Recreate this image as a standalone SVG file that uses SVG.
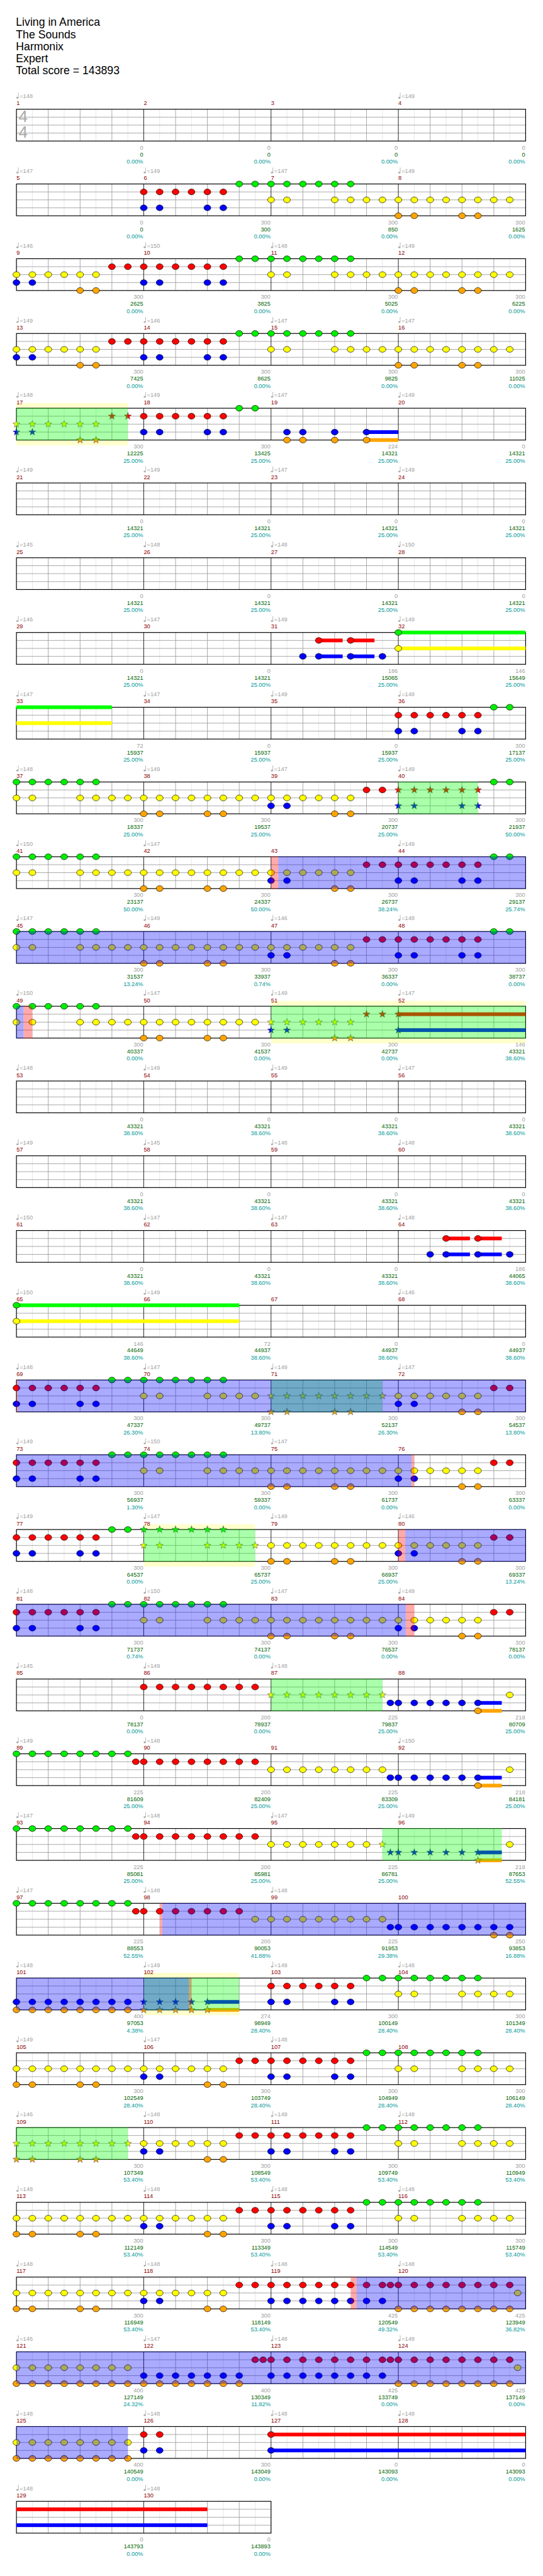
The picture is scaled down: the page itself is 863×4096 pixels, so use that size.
<svg xmlns="http://www.w3.org/2000/svg" width="863" height="4096" viewBox="0 0 863 4096">
<style>
text{font-family:"Liberation Sans",Arial,sans-serif}
.ti{font-size:21px;fill:#000}
.tm{font-size:11px;fill:#a0a0a0}
.mn{font-size:11px;fill:#8b0000}
.sg{font-size:11px;fill:#a0a0a0;text-anchor:end}
.sc{font-size:11px;fill:#006400;text-anchor:end}
.sp{font-size:11px;fill:#009999;text-anchor:end}
.ts{font-size:31px;fill:#aaa}
.nt{stroke:#000;stroke-width:0.8}
.st{stroke:#333;stroke-width:0.6}
.ov-b{fill:#0000ff;fill-opacity:0.333}
.ov-g{fill:#00ff00;fill-opacity:0.333}
.ov-r{fill:#ff0000;fill-opacity:0.333}
.band{fill:#ffffcc}
.su-g{fill:#00ff00}.su-r{fill:#ff0000}.su-y{fill:#ffff00}.su-b{fill:#0000ff}.su-o{fill:#ffa500}
</style>
<defs>
<ellipse id="G" class="nt" cx="0" cy="206" rx="6.5" ry="5.5" fill="#00ee00"/>
<ellipse id="R" class="nt" cx="0" cy="221" rx="6.5" ry="5.5" fill="#ff0000"/>
<ellipse id="Y" class="nt" cx="0" cy="236" rx="6.5" ry="5.5" fill="#ffff00"/>
<ellipse id="B" class="nt" cx="0" cy="251" rx="6.5" ry="5.5" fill="#0000ff"/>
<ellipse id="O" class="nt" cx="0" cy="266" rx="6.5" ry="5.5" fill="#ffa500"/>
<path id="star" d="M0,-7 L1.646,-2.265 L6.657,-2.163 L2.663,0.865 L4.114,5.663 L0,2.8 L-4.114,5.663 L-2.663,0.865 L-6.657,-2.163 L-1.646,-2.265 Z"/>
<use id="sG" href="#star" y="206" class="st" fill="#00ee00"/>
<use id="sR" href="#star" y="221" class="st" fill="#ff0000"/>
<use id="sY" href="#star" y="236" class="st" fill="#ffff00"/>
<use id="sB" href="#star" y="251" class="st" fill="#0000ff"/>
<use id="sO" href="#star" y="266" class="st" fill="#ffa500"/>
<g id="tq"><ellipse cx="1.8" cy="184.5" rx="2" ry="1.7" fill="#aaa"/><line x1="3.5" y1="175" x2="3.5" y2="184.5" stroke="#aaa" stroke-width="1"/></g>
<g id="staff">
<rect x="31" y="206" width="960" height="60" fill="#fff"/>
<path d="M61,206V266M121,206V266M181,206V266M241,206V266M301,206V266M361,206V266M421,206V266M481,206V266M541,206V266M601,206V266M661,206V266M721,206V266M781,206V266M841,206V266M901,206V266M961,206V266" stroke="#e2e2e2" stroke-width="1"/>
<path d="M91,206V266M151,206V266M211,206V266M331,206V266M391,206V266M451,206V266M571,206V266M631,206V266M691,206V266M811,206V266M871,206V266M931,206V266M31,221H991M31,236H991M31,251H991" stroke="#9a9a9a" stroke-width="1"/>
<path d="M271,206V266M511,206V266M751,206V266" stroke="#000" stroke-width="1"/>
<rect x="31" y="206" width="960" height="60" fill="none" stroke="#000" stroke-width="1.4"/>
</g>
<g id="staffh">
<rect x="31" y="206" width="480" height="60" fill="#fff"/>
<path d="M61,206V266M121,206V266M181,206V266M241,206V266M301,206V266M361,206V266M421,206V266M481,206V266" stroke="#e2e2e2" stroke-width="1"/>
<path d="M91,206V266M151,206V266M211,206V266M331,206V266M391,206V266M451,206V266M31,221H511M31,236H511M31,251H511" stroke="#9a9a9a" stroke-width="1"/>
<path d="M271,206V266" stroke="#000" stroke-width="1"/>
<rect x="31" y="206" width="480" height="60" fill="none" stroke="#000" stroke-width="1.4"/>
</g>
</defs>
<rect width="863" height="4096" fill="#fff"/>
<g transform="scale(0.843)">
<g id="header">
<text class="ti" x="30" y="49">Living in America</text>
<text class="ti" x="30" y="72">The Sounds</text>
<text class="ti" x="30" y="95">Harmonix</text>
<text class="ti" x="30" y="117">Expert</text>
<text class="ti" x="30" y="140">Total score = 143893</text>
</g>

<g id="row-m1">
<use href="#staff"/>
<text class="ts" x="35" y="230">4</text><text class="ts" x="35" y="260">4</text>
<use href="#tq" x="31"/><text class="tm" x="37" y="185">=148</text>
<use href="#tq" x="751"/><text class="tm" x="757" y="185">=149</text>
<text class="mn" x="31" y="198.5">1</text><text class="mn" x="271" y="198.5">2</text><text class="mn" x="511" y="198.5">3</text><text class="mn" x="751" y="198.5">4</text>
<text class="sg" x="270" y="282">0</text><text class="sg" x="510" y="282">0</text><text class="sg" x="750" y="282">0</text><text class="sg" x="990" y="282">0</text>
<text class="sc" x="270" y="295">0</text><text class="sc" x="510" y="295">0</text><text class="sc" x="750" y="295">0</text><text class="sc" x="990" y="295">0</text>
<text class="sp" x="270" y="308.5">0.00%</text><text class="sp" x="510" y="308.5">0.00%</text><text class="sp" x="750" y="308.5">0.00%</text><text class="sp" x="990" y="308.5">0.00%</text>
</g>

<g id="row-m5" transform="translate(0,141)">
<use href="#staff"/>
<use href="#R" x="271"/><use href="#R" x="301"/><use href="#R" x="331"/><use href="#R" x="361"/><use href="#R" x="391"/><use href="#R" x="421"/>
<use href="#B" x="271"/><use href="#B" x="301"/><use href="#B" x="391"/><use href="#B" x="421"/>
<use href="#G" x="451"/><use href="#G" x="481"/><use href="#G" x="511"/><use href="#G" x="541"/><use href="#G" x="571"/><use href="#G" x="601"/><use href="#G" x="631"/><use href="#G" x="661"/>
<use href="#Y" x="511"/><use href="#Y" x="541"/><use href="#Y" x="631"/><use href="#Y" x="661"/><use href="#Y" x="691"/><use href="#Y" x="721"/><use href="#Y" x="751"/><use href="#Y" x="781"/><use href="#Y" x="811"/><use href="#Y" x="841"/><use href="#Y" x="871"/><use href="#Y" x="901"/><use href="#Y" x="931"/><use href="#Y" x="961"/>
<use href="#O" x="751"/><use href="#O" x="781"/><use href="#O" x="871"/><use href="#O" x="901"/>
<use href="#tq" x="31"/><text class="tm" x="37" y="185">=147</text><use href="#tq" x="271"/><text class="tm" x="277" y="185">=149</text><use href="#tq" x="511"/><text class="tm" x="517" y="185">=147</text><use href="#tq" x="751"/><text class="tm" x="757" y="185">=149</text>
<text class="mn" x="31" y="198.5">5</text><text class="mn" x="271" y="198.5">6</text><text class="mn" x="511" y="198.5">7</text><text class="mn" x="751" y="198.5">8</text>
<text class="sg" x="270" y="282">0</text><text class="sg" x="510" y="282">300</text><text class="sg" x="750" y="282">300</text><text class="sg" x="990" y="282">300</text>
<text class="sc" x="270" y="295">0</text><text class="sc" x="510" y="295">300</text><text class="sc" x="750" y="295">850</text><text class="sc" x="990" y="295">1625</text>
<text class="sp" x="270" y="308.5">0.00%</text><text class="sp" x="510" y="308.5">0.00%</text><text class="sp" x="750" y="308.5">0.00%</text><text class="sp" x="990" y="308.5">0.00%</text>
</g>

<g id="row-m9" transform="translate(0,282)">
<use href="#staff"/>
<use href="#Y" x="31"/><use href="#Y" x="61"/><use href="#Y" x="91"/><use href="#Y" x="121"/><use href="#Y" x="151"/><use href="#Y" x="181"/><use href="#Y" x="511"/><use href="#Y" x="541"/><use href="#Y" x="631"/><use href="#Y" x="661"/><use href="#Y" x="691"/><use href="#Y" x="721"/><use href="#Y" x="751"/><use href="#Y" x="781"/><use href="#Y" x="811"/><use href="#Y" x="841"/><use href="#Y" x="871"/><use href="#Y" x="901"/><use href="#Y" x="931"/><use href="#Y" x="961"/>
<use href="#B" x="31"/><use href="#B" x="61"/><use href="#B" x="271"/><use href="#B" x="301"/><use href="#B" x="391"/><use href="#B" x="421"/>
<use href="#O" x="151"/><use href="#O" x="181"/><use href="#O" x="751"/><use href="#O" x="781"/><use href="#O" x="871"/><use href="#O" x="901"/>
<use href="#R" x="211"/><use href="#R" x="241"/><use href="#R" x="271"/><use href="#R" x="301"/><use href="#R" x="331"/><use href="#R" x="361"/><use href="#R" x="391"/><use href="#R" x="421"/>
<use href="#G" x="451"/><use href="#G" x="481"/><use href="#G" x="511"/><use href="#G" x="541"/><use href="#G" x="571"/><use href="#G" x="601"/><use href="#G" x="631"/><use href="#G" x="661"/>
<use href="#tq" x="31"/><text class="tm" x="37" y="185">=146</text><use href="#tq" x="271"/><text class="tm" x="277" y="185">=150</text><use href="#tq" x="511"/><text class="tm" x="517" y="185">=148</text><use href="#tq" x="751"/><text class="tm" x="757" y="185">=149</text>
<text class="mn" x="31" y="198.5">9</text><text class="mn" x="271" y="198.5">10</text><text class="mn" x="511" y="198.5">11</text><text class="mn" x="751" y="198.5">12</text>
<text class="sg" x="270" y="282">300</text><text class="sg" x="510" y="282">300</text><text class="sg" x="750" y="282">300</text><text class="sg" x="990" y="282">300</text>
<text class="sc" x="270" y="295">2625</text><text class="sc" x="510" y="295">3825</text><text class="sc" x="750" y="295">5025</text><text class="sc" x="990" y="295">6225</text>
<text class="sp" x="270" y="308.5">0.00%</text><text class="sp" x="510" y="308.5">0.00%</text><text class="sp" x="750" y="308.5">0.00%</text><text class="sp" x="990" y="308.5">0.00%</text>
</g>

<g id="row-m13" transform="translate(0,423)">
<use href="#staff"/>
<use href="#Y" x="31"/><use href="#Y" x="61"/><use href="#Y" x="91"/><use href="#Y" x="121"/><use href="#Y" x="151"/><use href="#Y" x="181"/><use href="#Y" x="511"/><use href="#Y" x="541"/><use href="#Y" x="631"/><use href="#Y" x="661"/><use href="#Y" x="691"/><use href="#Y" x="721"/><use href="#Y" x="751"/><use href="#Y" x="781"/><use href="#Y" x="811"/><use href="#Y" x="841"/><use href="#Y" x="871"/><use href="#Y" x="901"/><use href="#Y" x="931"/><use href="#Y" x="961"/>
<use href="#B" x="31"/><use href="#B" x="61"/><use href="#B" x="271"/><use href="#B" x="301"/><use href="#B" x="391"/><use href="#B" x="421"/>
<use href="#O" x="151"/><use href="#O" x="181"/><use href="#O" x="751"/><use href="#O" x="781"/><use href="#O" x="871"/><use href="#O" x="901"/>
<use href="#R" x="211"/><use href="#R" x="241"/><use href="#R" x="271"/><use href="#R" x="301"/><use href="#R" x="331"/><use href="#R" x="361"/><use href="#R" x="391"/><use href="#R" x="421"/>
<use href="#G" x="451"/><use href="#G" x="481"/><use href="#G" x="511"/><use href="#G" x="541"/><use href="#G" x="571"/><use href="#G" x="601"/><use href="#G" x="631"/><use href="#G" x="661"/>
<use href="#tq" x="31"/><text class="tm" x="37" y="185">=149</text><use href="#tq" x="271"/><text class="tm" x="277" y="185">=146</text><use href="#tq" x="511"/><text class="tm" x="517" y="185">=147</text><use href="#tq" x="751"/><text class="tm" x="757" y="185">=147</text>
<text class="mn" x="31" y="198.5">13</text><text class="mn" x="271" y="198.5">14</text><text class="mn" x="511" y="198.5">15</text><text class="mn" x="751" y="198.5">16</text>
<text class="sg" x="270" y="282">300</text><text class="sg" x="510" y="282">300</text><text class="sg" x="750" y="282">300</text><text class="sg" x="990" y="282">300</text>
<text class="sc" x="270" y="295">7425</text><text class="sc" x="510" y="295">8625</text><text class="sc" x="750" y="295">9825</text><text class="sc" x="990" y="295">11025</text>
<text class="sp" x="270" y="308.5">0.00%</text><text class="sp" x="510" y="308.5">0.00%</text><text class="sp" x="750" y="308.5">0.00%</text><text class="sp" x="990" y="308.5">0.00%</text>
</g>

<g id="row-m17" transform="translate(0,564)">
<rect class="band" x="31" y="196" width="210" height="80"/>
<use href="#staff"/>
<rect class="su-b" x="691" y="247.5" width="60" height="7"/><rect class="su-o" x="691" y="262.5" width="60" height="7"/>
<use href="#sY" x="31"/><use href="#sY" x="61"/><use href="#sY" x="91"/><use href="#sY" x="121"/><use href="#sY" x="151"/><use href="#sY" x="181"/>
<use href="#sB" x="31"/><use href="#sB" x="61"/><use href="#sO" x="151"/><use href="#sO" x="181"/><use href="#sR" x="211"/><use href="#sR" x="241"/>
<use href="#R" x="271"/><use href="#R" x="301"/><use href="#R" x="331"/><use href="#R" x="361"/><use href="#R" x="391"/><use href="#R" x="421"/>
<use href="#B" x="271"/><use href="#B" x="301"/><use href="#B" x="391"/><use href="#B" x="421"/>
<use href="#G" x="451"/><use href="#G" x="481"/>
<use href="#B" x="541"/><use href="#B" x="571"/><use href="#B" x="631"/><use href="#B" x="691"/>
<use href="#O" x="541"/><use href="#O" x="571"/><use href="#O" x="631"/><use href="#O" x="691"/>
<rect class="ov-g" x="31" y="205.5" width="210" height="61"/>
<use href="#tq" x="31"/><text class="tm" x="37" y="185">=148</text><use href="#tq" x="271"/><text class="tm" x="277" y="185">=149</text><use href="#tq" x="511"/><text class="tm" x="517" y="185">=147</text><use href="#tq" x="751"/><text class="tm" x="757" y="185">=149</text>
<text class="mn" x="31" y="198.5">17</text><text class="mn" x="271" y="198.5">18</text><text class="mn" x="511" y="198.5">19</text><text class="mn" x="751" y="198.5">20</text>
<text class="sg" x="270" y="282">300</text><text class="sg" x="510" y="282">300</text><text class="sg" x="750" y="282">224</text><text class="sg" x="990" y="282">0</text>
<text class="sc" x="270" y="295">12225</text><text class="sc" x="510" y="295">13425</text><text class="sc" x="750" y="295">14321</text><text class="sc" x="990" y="295">14321</text>
<text class="sp" x="270" y="308.5">25.00%</text><text class="sp" x="510" y="308.5">25.00%</text><text class="sp" x="750" y="308.5">25.00%</text><text class="sp" x="990" y="308.5">25.00%</text>
</g>

<g id="row-m21" transform="translate(0,705)">
<use href="#staff"/>
<use href="#tq" x="31"/><text class="tm" x="37" y="185">=149</text><use href="#tq" x="271"/><text class="tm" x="277" y="185">=149</text><use href="#tq" x="511"/><text class="tm" x="517" y="185">=147</text><use href="#tq" x="751"/><text class="tm" x="757" y="185">=149</text>
<text class="mn" x="31" y="198.5">21</text><text class="mn" x="271" y="198.5">22</text><text class="mn" x="511" y="198.5">23</text><text class="mn" x="751" y="198.5">24</text>
<text class="sg" x="270" y="282">0</text><text class="sg" x="510" y="282">0</text><text class="sg" x="750" y="282">0</text><text class="sg" x="990" y="282">0</text>
<text class="sc" x="270" y="295">14321</text><text class="sc" x="510" y="295">14321</text><text class="sc" x="750" y="295">14321</text><text class="sc" x="990" y="295">14321</text>
<text class="sp" x="270" y="308.5">25.00%</text><text class="sp" x="510" y="308.5">25.00%</text><text class="sp" x="750" y="308.5">25.00%</text><text class="sp" x="990" y="308.5">25.00%</text>
</g>

<g id="row-m25" transform="translate(0,846)">
<use href="#staff"/>
<use href="#tq" x="31"/><text class="tm" x="37" y="185">=145</text><use href="#tq" x="271"/><text class="tm" x="277" y="185">=148</text><use href="#tq" x="511"/><text class="tm" x="517" y="185">=148</text><use href="#tq" x="751"/><text class="tm" x="757" y="185">=150</text>
<text class="mn" x="31" y="198.5">25</text><text class="mn" x="271" y="198.5">26</text><text class="mn" x="511" y="198.5">27</text><text class="mn" x="751" y="198.5">28</text>
<text class="sg" x="270" y="282">0</text><text class="sg" x="510" y="282">0</text><text class="sg" x="750" y="282">0</text><text class="sg" x="990" y="282">0</text>
<text class="sc" x="270" y="295">14321</text><text class="sc" x="510" y="295">14321</text><text class="sc" x="750" y="295">14321</text><text class="sc" x="990" y="295">14321</text>
<text class="sp" x="270" y="308.5">25.00%</text><text class="sp" x="510" y="308.5">25.00%</text><text class="sp" x="750" y="308.5">25.00%</text><text class="sp" x="990" y="308.5">25.00%</text>
</g>

<g id="row-m29" transform="translate(0,987)">
<use href="#staff"/>
<rect class="su-b" x="601" y="247.5" width="45" height="7"/><rect class="su-b" x="661" y="247.5" width="45" height="7"/>
<rect class="su-r" x="601" y="217.5" width="45" height="7"/><rect class="su-r" x="661" y="217.5" width="45" height="7"/>
<rect class="su-g" x="751" y="202.5" width="240" height="7"/><rect class="su-y" x="751" y="232.5" width="240" height="7"/>
<use href="#B" x="571"/><use href="#B" x="601"/><use href="#B" x="661"/><use href="#B" x="721"/>
<use href="#R" x="601"/><use href="#R" x="661"/><use href="#G" x="751"/><use href="#Y" x="751"/>
<use href="#tq" x="31"/><text class="tm" x="37" y="185">=146</text><use href="#tq" x="271"/><text class="tm" x="277" y="185">=147</text><use href="#tq" x="511"/><text class="tm" x="517" y="185">=149</text><use href="#tq" x="751"/><text class="tm" x="757" y="185">=149</text>
<text class="mn" x="31" y="198.5">29</text><text class="mn" x="271" y="198.5">30</text><text class="mn" x="511" y="198.5">31</text><text class="mn" x="751" y="198.5">32</text>
<text class="sg" x="270" y="282">0</text><text class="sg" x="510" y="282">0</text><text class="sg" x="750" y="282">186</text><text class="sg" x="990" y="282">146</text>
<text class="sc" x="270" y="295">14321</text><text class="sc" x="510" y="295">14321</text><text class="sc" x="750" y="295">15065</text><text class="sc" x="990" y="295">15649</text>
<text class="sp" x="270" y="308.5">25.00%</text><text class="sp" x="510" y="308.5">25.00%</text><text class="sp" x="750" y="308.5">25.00%</text><text class="sp" x="990" y="308.5">25.00%</text>
</g>

<g id="row-m33" transform="translate(0,1128)">
<use href="#staff"/>
<rect class="su-g" x="31" y="202.5" width="180" height="7"/><rect class="su-y" x="31" y="232.5" width="180" height="7"/>
<use href="#R" x="751"/><use href="#R" x="781"/><use href="#R" x="811"/><use href="#R" x="841"/><use href="#R" x="871"/><use href="#R" x="901"/>
<use href="#B" x="751"/><use href="#B" x="781"/><use href="#B" x="871"/><use href="#B" x="901"/><use href="#G" x="931"/><use href="#G" x="961"/>
<use href="#tq" x="31"/><text class="tm" x="37" y="185">=147</text><use href="#tq" x="271"/><text class="tm" x="277" y="185">=147</text><use href="#tq" x="511"/><text class="tm" x="517" y="185">=149</text><use href="#tq" x="751"/><text class="tm" x="757" y="185">=148</text>
<text class="mn" x="31" y="198.5">33</text><text class="mn" x="271" y="198.5">34</text><text class="mn" x="511" y="198.5">35</text><text class="mn" x="751" y="198.5">36</text>
<text class="sg" x="270" y="282">72</text><text class="sg" x="510" y="282">0</text><text class="sg" x="750" y="282">0</text><text class="sg" x="990" y="282">300</text>
<text class="sc" x="270" y="295">15937</text><text class="sc" x="510" y="295">15937</text><text class="sc" x="750" y="295">15937</text><text class="sc" x="990" y="295">17137</text>
<text class="sp" x="270" y="308.5">25.00%</text><text class="sp" x="510" y="308.5">25.00%</text><text class="sp" x="750" y="308.5">25.00%</text><text class="sp" x="990" y="308.5">25.00%</text>
</g>

<g id="row-m37" transform="translate(0,1269)">
<use href="#staff"/>
<use href="#G" x="31"/><use href="#G" x="61"/><use href="#G" x="91"/><use href="#G" x="121"/><use href="#G" x="151"/><use href="#G" x="181"/><use href="#G" x="931"/><use href="#G" x="961"/>
<use href="#Y" x="31"/><use href="#Y" x="61"/><use href="#Y" x="151"/><use href="#Y" x="181"/><use href="#Y" x="211"/><use href="#Y" x="241"/><use href="#Y" x="271"/><use href="#Y" x="301"/><use href="#Y" x="331"/><use href="#Y" x="361"/><use href="#Y" x="391"/><use href="#Y" x="421"/><use href="#Y" x="451"/><use href="#Y" x="481"/><use href="#Y" x="511"/><use href="#Y" x="541"/><use href="#Y" x="571"/><use href="#Y" x="601"/><use href="#Y" x="631"/><use href="#Y" x="661"/>
<use href="#O" x="271"/><use href="#O" x="301"/><use href="#O" x="391"/><use href="#O" x="421"/><use href="#O" x="631"/><use href="#O" x="661"/>
<use href="#B" x="511"/><use href="#B" x="541"/><use href="#R" x="691"/><use href="#R" x="721"/>
<use href="#sR" x="751"/><use href="#sR" x="781"/><use href="#sR" x="811"/><use href="#sR" x="841"/><use href="#sR" x="871"/><use href="#sR" x="901"/>
<use href="#sB" x="751"/><use href="#sB" x="781"/><use href="#sB" x="871"/><use href="#sB" x="901"/>
<rect class="ov-g" x="751" y="205.5" width="150" height="61"/>
<use href="#tq" x="31"/><text class="tm" x="37" y="185">=148</text><use href="#tq" x="271"/><text class="tm" x="277" y="185">=149</text><use href="#tq" x="511"/><text class="tm" x="517" y="185">=147</text><use href="#tq" x="751"/><text class="tm" x="757" y="185">=149</text>
<text class="mn" x="31" y="198.5">37</text><text class="mn" x="271" y="198.5">38</text><text class="mn" x="511" y="198.5">39</text><text class="mn" x="751" y="198.5">40</text>
<text class="sg" x="270" y="282">300</text><text class="sg" x="510" y="282">300</text><text class="sg" x="750" y="282">300</text><text class="sg" x="990" y="282">300</text>
<text class="sc" x="270" y="295">18337</text><text class="sc" x="510" y="295">19537</text><text class="sc" x="750" y="295">20737</text><text class="sc" x="990" y="295">21937</text>
<text class="sp" x="270" y="308.5">25.00%</text><text class="sp" x="510" y="308.5">25.00%</text><text class="sp" x="750" y="308.5">25.00%</text><text class="sp" x="990" y="308.5">50.00%</text>
</g>

<g id="row-m41" transform="translate(0,1410)">
<use href="#staff"/>
<use href="#G" x="31"/><use href="#G" x="61"/><use href="#G" x="91"/><use href="#G" x="121"/><use href="#G" x="151"/><use href="#G" x="181"/><use href="#G" x="931"/><use href="#G" x="961"/>
<use href="#Y" x="31"/><use href="#Y" x="61"/><use href="#Y" x="151"/><use href="#Y" x="181"/><use href="#Y" x="211"/><use href="#Y" x="241"/><use href="#Y" x="271"/><use href="#Y" x="301"/><use href="#Y" x="331"/><use href="#Y" x="361"/><use href="#Y" x="391"/><use href="#Y" x="421"/><use href="#Y" x="451"/><use href="#Y" x="481"/><use href="#Y" x="511"/><use href="#Y" x="541"/><use href="#Y" x="571"/><use href="#Y" x="601"/><use href="#Y" x="631"/><use href="#Y" x="661"/>
<use href="#O" x="271"/><use href="#O" x="301"/><use href="#O" x="391"/><use href="#O" x="421"/><use href="#O" x="631"/><use href="#O" x="661"/>
<use href="#B" x="511"/><use href="#B" x="541"/><use href="#B" x="751"/><use href="#B" x="781"/><use href="#B" x="871"/><use href="#B" x="901"/>
<use href="#R" x="691"/><use href="#R" x="721"/><use href="#R" x="751"/><use href="#R" x="781"/><use href="#R" x="811"/><use href="#R" x="841"/><use href="#R" x="871"/><use href="#R" x="901"/>
<rect class="ov-r" x="511" y="205.5" width="13.5" height="61"/><rect class="ov-b" x="524.5" y="205.5" width="466.5" height="61"/>
<use href="#tq" x="31"/><text class="tm" x="37" y="185">=150</text><use href="#tq" x="271"/><text class="tm" x="277" y="185">=147</text><use href="#tq" x="751"/><text class="tm" x="757" y="185">=149</text>
<text class="mn" x="31" y="198.5">41</text><text class="mn" x="271" y="198.5">42</text><text class="mn" x="511" y="198.5">43</text><text class="mn" x="751" y="198.5">44</text>
<text class="sg" x="270" y="282">300</text><text class="sg" x="510" y="282">300</text><text class="sg" x="750" y="282">300</text><text class="sg" x="990" y="282">300</text>
<text class="sc" x="270" y="295">23137</text><text class="sc" x="510" y="295">24337</text><text class="sc" x="750" y="295">26737</text><text class="sc" x="990" y="295">29137</text>
<text class="sp" x="270" y="308.5">50.00%</text><text class="sp" x="510" y="308.5">50.00%</text><text class="sp" x="750" y="308.5">38.24%</text><text class="sp" x="990" y="308.5">25.74%</text>
</g>

<g id="row-m45" transform="translate(0,1551)">
<use href="#staff"/>
<use href="#G" x="31"/><use href="#G" x="61"/><use href="#G" x="91"/><use href="#G" x="121"/><use href="#G" x="151"/><use href="#G" x="181"/><use href="#G" x="931"/><use href="#G" x="961"/>
<use href="#Y" x="31"/><use href="#Y" x="61"/><use href="#Y" x="151"/><use href="#Y" x="181"/><use href="#Y" x="211"/><use href="#Y" x="241"/><use href="#Y" x="271"/><use href="#Y" x="301"/><use href="#Y" x="331"/><use href="#Y" x="361"/><use href="#Y" x="391"/><use href="#Y" x="421"/><use href="#Y" x="451"/><use href="#Y" x="481"/><use href="#Y" x="511"/><use href="#Y" x="541"/><use href="#Y" x="571"/><use href="#Y" x="601"/><use href="#Y" x="631"/><use href="#Y" x="661"/>
<use href="#O" x="271"/><use href="#O" x="301"/><use href="#O" x="391"/><use href="#O" x="421"/><use href="#O" x="631"/><use href="#O" x="661"/>
<use href="#B" x="511"/><use href="#B" x="541"/><use href="#B" x="751"/><use href="#B" x="781"/><use href="#B" x="871"/><use href="#B" x="901"/>
<use href="#R" x="691"/><use href="#R" x="721"/><use href="#R" x="751"/><use href="#R" x="781"/><use href="#R" x="811"/><use href="#R" x="841"/><use href="#R" x="871"/><use href="#R" x="901"/>
<rect class="ov-b" x="31" y="205.5" width="960" height="61"/>
<use href="#tq" x="31"/><text class="tm" x="37" y="185">=147</text><use href="#tq" x="271"/><text class="tm" x="277" y="185">=149</text><use href="#tq" x="511"/><text class="tm" x="517" y="185">=146</text><use href="#tq" x="751"/><text class="tm" x="757" y="185">=148</text>
<text class="mn" x="31" y="198.5">45</text><text class="mn" x="271" y="198.5">46</text><text class="mn" x="511" y="198.5">47</text><text class="mn" x="751" y="198.5">48</text>
<text class="sg" x="270" y="282">300</text><text class="sg" x="510" y="282">300</text><text class="sg" x="750" y="282">300</text><text class="sg" x="990" y="282">300</text>
<text class="sc" x="270" y="295">31537</text><text class="sc" x="510" y="295">33937</text><text class="sc" x="750" y="295">36337</text><text class="sc" x="990" y="295">38737</text>
<text class="sp" x="270" y="308.5">13.24%</text><text class="sp" x="510" y="308.5">0.74%</text><text class="sp" x="750" y="308.5">0.00%</text><text class="sp" x="990" y="308.5">0.00%</text>
</g>

<g id="row-m49" transform="translate(0,1692)">
<rect class="band" x="511" y="196" width="480" height="80"/>
<use href="#staff"/>
<rect class="su-r" x="751" y="217.5" width="240" height="7"/><rect class="su-b" x="751" y="247.5" width="240" height="7"/>
<use href="#G" x="31"/><use href="#G" x="61"/><use href="#G" x="91"/><use href="#G" x="121"/><use href="#G" x="151"/><use href="#G" x="181"/>
<use href="#Y" x="31"/><use href="#Y" x="61"/><use href="#Y" x="151"/><use href="#Y" x="181"/><use href="#Y" x="211"/><use href="#Y" x="241"/><use href="#Y" x="271"/><use href="#Y" x="301"/><use href="#Y" x="331"/><use href="#Y" x="361"/><use href="#Y" x="391"/><use href="#Y" x="421"/><use href="#Y" x="451"/><use href="#Y" x="481"/>
<use href="#O" x="271"/><use href="#O" x="301"/><use href="#O" x="391"/><use href="#O" x="421"/>
<use href="#sY" x="511"/><use href="#sY" x="541"/><use href="#sY" x="571"/><use href="#sY" x="601"/><use href="#sY" x="631"/><use href="#sY" x="661"/>
<use href="#sB" x="511"/><use href="#sB" x="541"/><use href="#sO" x="631"/><use href="#sO" x="661"/>
<use href="#sR" x="691"/><use href="#sR" x="721"/><use href="#sR" x="751"/><use href="#sB" x="751"/>
<rect class="ov-b" x="31" y="205.5" width="13.5" height="61"/><rect class="ov-r" x="44.5" y="205.5" width="16.5" height="61"/>
<rect class="ov-g" x="511" y="205.5" width="480" height="61"/>
<use href="#tq" x="31"/><text class="tm" x="37" y="185">=150</text><use href="#tq" x="271"/><text class="tm" x="277" y="185">=147</text><use href="#tq" x="511"/><text class="tm" x="517" y="185">=149</text><use href="#tq" x="751"/><text class="tm" x="757" y="185">=147</text>
<text class="mn" x="31" y="198.5">49</text><text class="mn" x="271" y="198.5">50</text><text class="mn" x="511" y="198.5">51</text><text class="mn" x="751" y="198.5">52</text>
<text class="sg" x="270" y="282">300</text><text class="sg" x="510" y="282">300</text><text class="sg" x="750" y="282">300</text><text class="sg" x="990" y="282">146</text>
<text class="sc" x="270" y="295">40337</text><text class="sc" x="510" y="295">41537</text><text class="sc" x="750" y="295">42737</text><text class="sc" x="990" y="295">43321</text>
<text class="sp" x="270" y="308.5">0.00%</text><text class="sp" x="510" y="308.5">0.00%</text><text class="sp" x="750" y="308.5">0.00%</text><text class="sp" x="990" y="308.5">38.60%</text>
</g>

<g id="row-m53" transform="translate(0,1833)">
<use href="#staff"/>
<use href="#tq" x="31"/><text class="tm" x="37" y="185">=148</text><use href="#tq" x="271"/><text class="tm" x="277" y="185">=149</text><use href="#tq" x="511"/><text class="tm" x="517" y="185">=149</text><use href="#tq" x="751"/><text class="tm" x="757" y="185">=147</text>
<text class="mn" x="31" y="198.5">53</text><text class="mn" x="271" y="198.5">54</text><text class="mn" x="511" y="198.5">55</text><text class="mn" x="751" y="198.5">56</text>
<text class="sg" x="270" y="282">0</text><text class="sg" x="510" y="282">0</text><text class="sg" x="750" y="282">0</text><text class="sg" x="990" y="282">0</text>
<text class="sc" x="270" y="295">43321</text><text class="sc" x="510" y="295">43321</text><text class="sc" x="750" y="295">43321</text><text class="sc" x="990" y="295">43321</text>
<text class="sp" x="270" y="308.5">38.60%</text><text class="sp" x="510" y="308.5">38.60%</text><text class="sp" x="750" y="308.5">38.60%</text><text class="sp" x="990" y="308.5">38.60%</text>
</g>

<g id="row-m57" transform="translate(0,1974)">
<use href="#staff"/>
<use href="#tq" x="31"/><text class="tm" x="37" y="185">=149</text><use href="#tq" x="271"/><text class="tm" x="277" y="185">=145</text><use href="#tq" x="511"/><text class="tm" x="517" y="185">=148</text><use href="#tq" x="751"/><text class="tm" x="757" y="185">=148</text>
<text class="mn" x="31" y="198.5">57</text><text class="mn" x="271" y="198.5">58</text><text class="mn" x="511" y="198.5">59</text><text class="mn" x="751" y="198.5">60</text>
<text class="sg" x="270" y="282">0</text><text class="sg" x="510" y="282">0</text><text class="sg" x="750" y="282">0</text><text class="sg" x="990" y="282">0</text>
<text class="sc" x="270" y="295">43321</text><text class="sc" x="510" y="295">43321</text><text class="sc" x="750" y="295">43321</text><text class="sc" x="990" y="295">43321</text>
<text class="sp" x="270" y="308.5">38.60%</text><text class="sp" x="510" y="308.5">38.60%</text><text class="sp" x="750" y="308.5">38.60%</text><text class="sp" x="990" y="308.5">38.60%</text>
</g>

<g id="row-m61" transform="translate(0,2115)">
<use href="#staff"/>
<rect class="su-b" x="841" y="247.5" width="45" height="7"/><rect class="su-b" x="901" y="247.5" width="45" height="7"/>
<rect class="su-r" x="841" y="217.5" width="45" height="7"/><rect class="su-r" x="901" y="217.5" width="45" height="7"/>
<use href="#B" x="811"/><use href="#B" x="841"/><use href="#B" x="901"/><use href="#B" x="961"/><use href="#R" x="841"/><use href="#R" x="901"/>
<use href="#tq" x="31"/><text class="tm" x="37" y="185">=150</text><use href="#tq" x="271"/><text class="tm" x="277" y="185">=147</text><use href="#tq" x="511"/><text class="tm" x="517" y="185">=147</text><use href="#tq" x="751"/><text class="tm" x="757" y="185">=148</text>
<text class="mn" x="31" y="198.5">61</text><text class="mn" x="271" y="198.5">62</text><text class="mn" x="511" y="198.5">63</text><text class="mn" x="751" y="198.5">64</text>
<text class="sg" x="270" y="282">0</text><text class="sg" x="510" y="282">0</text><text class="sg" x="750" y="282">0</text><text class="sg" x="990" y="282">186</text>
<text class="sc" x="270" y="295">43321</text><text class="sc" x="510" y="295">43321</text><text class="sc" x="750" y="295">43321</text><text class="sc" x="990" y="295">44065</text>
<text class="sp" x="270" y="308.5">38.60%</text><text class="sp" x="510" y="308.5">38.60%</text><text class="sp" x="750" y="308.5">38.60%</text><text class="sp" x="990" y="308.5">38.60%</text>
</g>

<g id="row-m65" transform="translate(0,2256)">
<use href="#staff"/>
<rect class="su-g" x="31" y="202.5" width="420" height="7"/><rect class="su-y" x="31" y="232.5" width="420" height="7"/>
<use href="#G" x="31"/><use href="#Y" x="31"/>
<use href="#tq" x="31"/><text class="tm" x="37" y="185">=150</text><use href="#tq" x="271"/><text class="tm" x="277" y="185">=149</text><use href="#tq" x="751"/><text class="tm" x="757" y="185">=146</text>
<text class="mn" x="31" y="198.5">65</text><text class="mn" x="271" y="198.5">66</text><text class="mn" x="511" y="198.5">67</text><text class="mn" x="751" y="198.5">68</text>
<text class="sg" x="270" y="282">146</text><text class="sg" x="510" y="282">72</text><text class="sg" x="750" y="282">0</text><text class="sg" x="990" y="282">0</text>
<text class="sc" x="270" y="295">44649</text><text class="sc" x="510" y="295">44937</text><text class="sc" x="750" y="295">44937</text><text class="sc" x="990" y="295">44937</text>
<text class="sp" x="270" y="308.5">38.60%</text><text class="sp" x="510" y="308.5">38.60%</text><text class="sp" x="750" y="308.5">38.60%</text><text class="sp" x="990" y="308.5">38.60%</text>
</g>

<g id="row-m69" transform="translate(0,2397)">
<use href="#staff"/>
<use href="#R" x="31"/><use href="#R" x="61"/><use href="#R" x="91"/><use href="#R" x="121"/><use href="#R" x="151"/><use href="#R" x="181"/><use href="#R" x="931"/><use href="#R" x="961"/>
<use href="#B" x="31"/><use href="#B" x="61"/><use href="#B" x="151"/><use href="#B" x="181"/><use href="#B" x="751"/><use href="#B" x="781"/>
<use href="#G" x="211"/><use href="#G" x="241"/><use href="#G" x="271"/><use href="#G" x="301"/><use href="#G" x="331"/><use href="#G" x="361"/><use href="#G" x="391"/><use href="#G" x="421"/>
<use href="#Y" x="271"/><use href="#Y" x="301"/><use href="#Y" x="391"/><use href="#Y" x="421"/><use href="#Y" x="451"/><use href="#Y" x="481"/>
<use href="#sY" x="511"/><use href="#sY" x="541"/><use href="#sY" x="571"/><use href="#sY" x="601"/><use href="#sY" x="631"/><use href="#sY" x="661"/><use href="#sY" x="691"/><use href="#sY" x="721"/>
<use href="#sO" x="511"/><use href="#sO" x="541"/><use href="#sO" x="631"/><use href="#sO" x="661"/>
<use href="#Y" x="751"/><use href="#Y" x="781"/><use href="#Y" x="811"/><use href="#Y" x="841"/><use href="#Y" x="871"/><use href="#Y" x="901"/>
<use href="#O" x="871"/><use href="#O" x="901"/>
<rect class="ov-g" x="511" y="205.5" width="210" height="61"/>
<rect class="ov-r" x="31" y="205.5" width="2" height="61"/><rect class="ov-b" x="33" y="205.5" width="958" height="61"/>
<use href="#tq" x="31"/><text class="tm" x="37" y="185">=148</text><use href="#tq" x="271"/><text class="tm" x="277" y="185">=147</text><use href="#tq" x="511"/><text class="tm" x="517" y="185">=149</text><use href="#tq" x="751"/><text class="tm" x="757" y="185">=147</text>
<text class="mn" x="31" y="198.5">69</text><text class="mn" x="271" y="198.5">70</text><text class="mn" x="511" y="198.5">71</text><text class="mn" x="751" y="198.5">72</text>
<text class="sg" x="270" y="282">300</text><text class="sg" x="510" y="282">300</text><text class="sg" x="750" y="282">300</text><text class="sg" x="990" y="282">300</text>
<text class="sc" x="270" y="295">47337</text><text class="sc" x="510" y="295">49737</text><text class="sc" x="750" y="295">52137</text><text class="sc" x="990" y="295">54537</text>
<text class="sp" x="270" y="308.5">26.30%</text><text class="sp" x="510" y="308.5">13.80%</text><text class="sp" x="750" y="308.5">26.30%</text><text class="sp" x="990" y="308.5">13.80%</text>
</g>

<g id="row-m73" transform="translate(0,2538)">
<use href="#staff"/>
<use href="#R" x="31"/><use href="#R" x="61"/><use href="#R" x="91"/><use href="#R" x="121"/><use href="#R" x="151"/><use href="#R" x="181"/><use href="#R" x="931"/><use href="#R" x="961"/>
<use href="#B" x="31"/><use href="#B" x="61"/><use href="#B" x="151"/><use href="#B" x="181"/><use href="#B" x="751"/><use href="#B" x="781"/>
<use href="#G" x="211"/><use href="#G" x="241"/><use href="#G" x="271"/><use href="#G" x="301"/><use href="#G" x="331"/><use href="#G" x="361"/><use href="#G" x="391"/><use href="#G" x="421"/>
<use href="#Y" x="271"/><use href="#Y" x="301"/><use href="#Y" x="391"/><use href="#Y" x="421"/><use href="#Y" x="451"/><use href="#Y" x="481"/><use href="#Y" x="511"/><use href="#Y" x="541"/><use href="#Y" x="571"/><use href="#Y" x="601"/><use href="#Y" x="631"/><use href="#Y" x="661"/><use href="#Y" x="691"/><use href="#Y" x="721"/><use href="#Y" x="751"/><use href="#Y" x="781"/><use href="#Y" x="811"/><use href="#Y" x="841"/><use href="#Y" x="871"/><use href="#Y" x="901"/>
<use href="#O" x="511"/><use href="#O" x="541"/><use href="#O" x="631"/><use href="#O" x="661"/><use href="#O" x="871"/><use href="#O" x="901"/>
<rect class="ov-b" x="31" y="205.5" width="745" height="61"/><rect class="ov-r" x="776" y="205.5" width="5" height="61"/>
<use href="#tq" x="31"/><text class="tm" x="37" y="185">=149</text><use href="#tq" x="271"/><text class="tm" x="277" y="185">=150</text><use href="#tq" x="511"/><text class="tm" x="517" y="185">=147</text>
<text class="mn" x="31" y="198.5">73</text><text class="mn" x="271" y="198.5">74</text><text class="mn" x="511" y="198.5">75</text><text class="mn" x="751" y="198.5">76</text>
<text class="sg" x="270" y="282">300</text><text class="sg" x="510" y="282">300</text><text class="sg" x="750" y="282">300</text><text class="sg" x="990" y="282">300</text>
<text class="sc" x="270" y="295">56937</text><text class="sc" x="510" y="295">59337</text><text class="sc" x="750" y="295">61737</text><text class="sc" x="990" y="295">63337</text>
<text class="sp" x="270" y="308.5">1.30%</text><text class="sp" x="510" y="308.5">0.00%</text><text class="sp" x="750" y="308.5">0.00%</text><text class="sp" x="990" y="308.5">0.00%</text>
</g>

<g id="row-m77" transform="translate(0,2679)">
<rect class="band" x="271" y="196" width="210" height="80"/>
<use href="#staff"/>
<use href="#R" x="31"/><use href="#R" x="61"/><use href="#R" x="91"/><use href="#R" x="121"/><use href="#R" x="151"/><use href="#R" x="181"/><use href="#R" x="931"/><use href="#R" x="961"/>
<use href="#B" x="31"/><use href="#B" x="61"/><use href="#B" x="151"/><use href="#B" x="181"/><use href="#B" x="751"/><use href="#B" x="781"/>
<use href="#G" x="211"/><use href="#G" x="241"/>
<use href="#sG" x="271"/><use href="#sG" x="301"/><use href="#sG" x="331"/><use href="#sG" x="361"/><use href="#sG" x="391"/><use href="#sG" x="421"/>
<use href="#sY" x="271"/><use href="#sY" x="301"/><use href="#sY" x="391"/><use href="#sY" x="421"/><use href="#sY" x="451"/><use href="#sY" x="481"/>
<use href="#Y" x="511"/><use href="#Y" x="541"/><use href="#Y" x="571"/><use href="#Y" x="601"/><use href="#Y" x="631"/><use href="#Y" x="661"/><use href="#Y" x="691"/><use href="#Y" x="721"/><use href="#Y" x="751"/><use href="#Y" x="781"/><use href="#Y" x="811"/><use href="#Y" x="841"/><use href="#Y" x="871"/><use href="#Y" x="901"/>
<use href="#O" x="511"/><use href="#O" x="541"/><use href="#O" x="631"/><use href="#O" x="661"/><use href="#O" x="871"/><use href="#O" x="901"/>
<rect class="ov-g" x="271" y="205.5" width="210" height="61"/>
<rect class="ov-r" x="751" y="205.5" width="13" height="61"/><rect class="ov-b" x="764" y="205.5" width="227" height="61"/>
<use href="#tq" x="31"/><text class="tm" x="37" y="185">=149</text><use href="#tq" x="271"/><text class="tm" x="277" y="185">=147</text><use href="#tq" x="511"/><text class="tm" x="517" y="185">=149</text><use href="#tq" x="751"/><text class="tm" x="757" y="185">=146</text>
<text class="mn" x="31" y="198.5">77</text><text class="mn" x="271" y="198.5">78</text><text class="mn" x="511" y="198.5">79</text><text class="mn" x="751" y="198.5">80</text>
<text class="sg" x="270" y="282">300</text><text class="sg" x="510" y="282">300</text><text class="sg" x="750" y="282">300</text><text class="sg" x="990" y="282">300</text>
<text class="sc" x="270" y="295">64537</text><text class="sc" x="510" y="295">65737</text><text class="sc" x="750" y="295">66937</text><text class="sc" x="990" y="295">69337</text>
<text class="sp" x="270" y="308.5">0.00%</text><text class="sp" x="510" y="308.5">25.00%</text><text class="sp" x="750" y="308.5">25.00%</text><text class="sp" x="990" y="308.5">13.24%</text>
</g>

<g id="row-m81" transform="translate(0,2820)">
<use href="#staff"/>
<use href="#R" x="31"/><use href="#R" x="61"/><use href="#R" x="91"/><use href="#R" x="121"/><use href="#R" x="151"/><use href="#R" x="181"/><use href="#R" x="931"/><use href="#R" x="961"/>
<use href="#B" x="31"/><use href="#B" x="61"/><use href="#B" x="151"/><use href="#B" x="181"/><use href="#B" x="751"/><use href="#B" x="781"/>
<use href="#G" x="211"/><use href="#G" x="241"/><use href="#G" x="271"/><use href="#G" x="301"/><use href="#G" x="331"/><use href="#G" x="361"/><use href="#G" x="391"/><use href="#G" x="421"/>
<use href="#Y" x="271"/><use href="#Y" x="301"/><use href="#Y" x="391"/><use href="#Y" x="421"/><use href="#Y" x="451"/><use href="#Y" x="481"/><use href="#Y" x="511"/><use href="#Y" x="541"/><use href="#Y" x="571"/><use href="#Y" x="601"/><use href="#Y" x="631"/><use href="#Y" x="661"/><use href="#Y" x="691"/><use href="#Y" x="721"/><use href="#Y" x="751"/><use href="#Y" x="781"/><use href="#Y" x="811"/><use href="#Y" x="841"/><use href="#Y" x="871"/><use href="#Y" x="901"/>
<use href="#O" x="511"/><use href="#O" x="541"/><use href="#O" x="631"/><use href="#O" x="661"/><use href="#O" x="871"/><use href="#O" x="901"/>
<rect class="ov-b" x="31" y="205.5" width="734" height="61"/><rect class="ov-r" x="765" y="205.5" width="16" height="61"/>
<use href="#tq" x="31"/><text class="tm" x="37" y="185">=148</text><use href="#tq" x="271"/><text class="tm" x="277" y="185">=150</text><use href="#tq" x="511"/><text class="tm" x="517" y="185">=147</text><use href="#tq" x="751"/><text class="tm" x="757" y="185">=149</text>
<text class="mn" x="31" y="198.5">81</text><text class="mn" x="271" y="198.5">82</text><text class="mn" x="511" y="198.5">83</text><text class="mn" x="751" y="198.5">84</text>
<text class="sg" x="270" y="282">300</text><text class="sg" x="510" y="282">300</text><text class="sg" x="750" y="282">300</text><text class="sg" x="990" y="282">300</text>
<text class="sc" x="270" y="295">71737</text><text class="sc" x="510" y="295">74137</text><text class="sc" x="750" y="295">76537</text><text class="sc" x="990" y="295">78137</text>
<text class="sp" x="270" y="308.5">0.74%</text><text class="sp" x="510" y="308.5">0.00%</text><text class="sp" x="750" y="308.5">0.00%</text><text class="sp" x="990" y="308.5">0.00%</text>
</g>

<g id="row-m85" transform="translate(0,2961)">
<use href="#staff"/>
<rect class="su-b" x="901" y="247.5" width="45" height="7"/><rect class="su-o" x="901" y="262.5" width="45" height="7"/>
<use href="#R" x="271"/><use href="#R" x="301"/><use href="#R" x="331"/><use href="#R" x="361"/><use href="#R" x="391"/><use href="#R" x="421"/><use href="#R" x="451"/><use href="#R" x="481"/>
<use href="#sY" x="511"/><use href="#sY" x="541"/><use href="#sY" x="571"/><use href="#sY" x="601"/><use href="#sY" x="631"/><use href="#sY" x="661"/><use href="#sY" x="691"/><use href="#sY" x="721"/>
<use href="#B" x="736"/><use href="#B" x="751"/><use href="#B" x="781"/><use href="#B" x="811"/><use href="#B" x="841"/><use href="#B" x="871"/><use href="#B" x="901"/><use href="#O" x="901"/><use href="#Y" x="961"/>
<rect class="ov-g" x="511" y="205.5" width="210" height="61"/>
<use href="#tq" x="31"/><text class="tm" x="37" y="185">=145</text><use href="#tq" x="271"/><text class="tm" x="277" y="185">=149</text><use href="#tq" x="511"/><text class="tm" x="517" y="185">=148</text>
<text class="mn" x="31" y="198.5">85</text><text class="mn" x="271" y="198.5">86</text><text class="mn" x="511" y="198.5">87</text><text class="mn" x="751" y="198.5">88</text>
<text class="sg" x="270" y="282">0</text><text class="sg" x="510" y="282">200</text><text class="sg" x="750" y="282">225</text><text class="sg" x="990" y="282">218</text>
<text class="sc" x="270" y="295">78137</text><text class="sc" x="510" y="295">78937</text><text class="sc" x="750" y="295">79837</text><text class="sc" x="990" y="295">80709</text>
<text class="sp" x="270" y="308.5">0.00%</text><text class="sp" x="510" y="308.5">0.00%</text><text class="sp" x="750" y="308.5">25.00%</text><text class="sp" x="990" y="308.5">25.00%</text>
</g>

<g id="row-m89" transform="translate(0,3102)">
<use href="#staff"/>
<rect class="su-b" x="901" y="247.5" width="45" height="7"/><rect class="su-o" x="901" y="262.5" width="45" height="7"/>
<use href="#G" x="31"/><use href="#G" x="61"/><use href="#G" x="91"/><use href="#G" x="121"/><use href="#G" x="151"/><use href="#G" x="181"/><use href="#G" x="211"/><use href="#G" x="241"/>
<use href="#R" x="256"/><use href="#R" x="271"/><use href="#R" x="301"/><use href="#R" x="331"/><use href="#R" x="361"/><use href="#R" x="391"/><use href="#R" x="421"/><use href="#R" x="451"/><use href="#R" x="481"/>
<use href="#Y" x="511"/><use href="#Y" x="541"/><use href="#Y" x="571"/><use href="#Y" x="601"/><use href="#Y" x="631"/><use href="#Y" x="661"/><use href="#Y" x="691"/><use href="#Y" x="721"/>
<use href="#B" x="736"/><use href="#B" x="751"/><use href="#B" x="781"/><use href="#B" x="811"/><use href="#B" x="841"/><use href="#B" x="871"/><use href="#B" x="901"/><use href="#O" x="901"/><use href="#Y" x="961"/>
<use href="#tq" x="31"/><text class="tm" x="37" y="185">=149</text><use href="#tq" x="271"/><text class="tm" x="277" y="185">=148</text><use href="#tq" x="751"/><text class="tm" x="757" y="185">=150</text>
<text class="mn" x="31" y="198.5">89</text><text class="mn" x="271" y="198.5">90</text><text class="mn" x="511" y="198.5">91</text><text class="mn" x="751" y="198.5">92</text>
<text class="sg" x="270" y="282">225</text><text class="sg" x="510" y="282">200</text><text class="sg" x="750" y="282">225</text><text class="sg" x="990" y="282">218</text>
<text class="sc" x="270" y="295">81609</text><text class="sc" x="510" y="295">82409</text><text class="sc" x="750" y="295">83309</text><text class="sc" x="990" y="295">84181</text>
<text class="sp" x="270" y="308.5">25.00%</text><text class="sp" x="510" y="308.5">25.00%</text><text class="sp" x="750" y="308.5">25.00%</text><text class="sp" x="990" y="308.5">25.00%</text>
</g>

<g id="row-m93" transform="translate(0,3243)">
<use href="#staff"/>
<rect class="su-b" x="901" y="247.5" width="45" height="7"/><rect class="su-o" x="901" y="262.5" width="45" height="7"/>
<use href="#G" x="31"/><use href="#G" x="61"/><use href="#G" x="91"/><use href="#G" x="121"/><use href="#G" x="151"/><use href="#G" x="181"/><use href="#G" x="211"/><use href="#G" x="241"/>
<use href="#R" x="256"/><use href="#R" x="271"/><use href="#R" x="301"/><use href="#R" x="331"/><use href="#R" x="361"/><use href="#R" x="391"/><use href="#R" x="421"/><use href="#R" x="451"/><use href="#R" x="481"/>
<use href="#Y" x="511"/><use href="#Y" x="541"/><use href="#Y" x="571"/><use href="#Y" x="601"/><use href="#Y" x="631"/><use href="#Y" x="661"/><use href="#Y" x="691"/><use href="#sY" x="721"/>
<use href="#sB" x="736"/><use href="#sB" x="751"/><use href="#sB" x="781"/><use href="#sB" x="811"/><use href="#sB" x="841"/><use href="#sB" x="871"/><use href="#sB" x="901"/><use href="#sO" x="901"/><use href="#Y" x="961"/>
<rect class="ov-g" x="721" y="205.5" width="225" height="61"/>
<use href="#tq" x="31"/><text class="tm" x="37" y="185">=147</text><use href="#tq" x="271"/><text class="tm" x="277" y="185">=148</text><use href="#tq" x="511"/><text class="tm" x="517" y="185">=147</text><use href="#tq" x="751"/><text class="tm" x="757" y="185">=149</text>
<text class="mn" x="31" y="198.5">93</text><text class="mn" x="271" y="198.5">94</text><text class="mn" x="511" y="198.5">95</text><text class="mn" x="751" y="198.5">96</text>
<text class="sg" x="270" y="282">225</text><text class="sg" x="510" y="282">200</text><text class="sg" x="750" y="282">225</text><text class="sg" x="990" y="282">218</text>
<text class="sc" x="270" y="295">85081</text><text class="sc" x="510" y="295">85981</text><text class="sc" x="750" y="295">86781</text><text class="sc" x="990" y="295">87653</text>
<text class="sp" x="270" y="308.5">25.00%</text><text class="sp" x="510" y="308.5">25.00%</text><text class="sp" x="750" y="308.5">25.00%</text><text class="sp" x="990" y="308.5">52.55%</text>
</g>

<g id="row-m97" transform="translate(0,3384)">
<use href="#staff"/>
<use href="#G" x="31"/><use href="#G" x="61"/><use href="#G" x="91"/><use href="#G" x="121"/><use href="#G" x="151"/><use href="#G" x="181"/><use href="#G" x="211"/><use href="#G" x="241"/>
<use href="#R" x="256"/><use href="#R" x="271"/><use href="#R" x="301"/><use href="#R" x="331"/><use href="#R" x="361"/><use href="#R" x="391"/><use href="#R" x="421"/><use href="#R" x="451"/>
<use href="#Y" x="481"/><use href="#Y" x="511"/><use href="#Y" x="541"/><use href="#Y" x="571"/><use href="#Y" x="601"/><use href="#Y" x="631"/><use href="#Y" x="661"/><use href="#Y" x="691"/><use href="#Y" x="721"/>
<use href="#B" x="736"/><use href="#B" x="751"/><use href="#B" x="781"/><use href="#B" x="811"/><use href="#B" x="841"/><use href="#B" x="871"/><use href="#B" x="901"/><use href="#B" x="931"/><use href="#B" x="961"/>
<use href="#O" x="931"/><use href="#O" x="961"/>
<rect class="ov-r" x="301" y="205.5" width="5" height="61"/><rect class="ov-b" x="306" y="205.5" width="685" height="61"/>
<use href="#tq" x="31"/><text class="tm" x="37" y="185">=147</text><use href="#tq" x="271"/><text class="tm" x="277" y="185">=148</text><use href="#tq" x="511"/><text class="tm" x="517" y="185">=148</text>
<text class="mn" x="31" y="198.5">97</text><text class="mn" x="271" y="198.5">98</text><text class="mn" x="511" y="198.5">99</text><text class="mn" x="751" y="198.5">100</text>
<text class="sg" x="270" y="282">225</text><text class="sg" x="510" y="282">200</text><text class="sg" x="750" y="282">225</text><text class="sg" x="990" y="282">250</text>
<text class="sc" x="270" y="295">88553</text><text class="sc" x="510" y="295">90053</text><text class="sc" x="750" y="295">91953</text><text class="sc" x="990" y="295">93853</text>
<text class="sp" x="270" y="308.5">52.55%</text><text class="sp" x="510" y="308.5">41.88%</text><text class="sp" x="750" y="308.5">29.38%</text><text class="sp" x="990" y="308.5">16.88%</text>
</g>

<g id="row-m101" transform="translate(0,3525)">
<rect class="band" x="271" y="196" width="180" height="80"/>
<use href="#staff"/>
<rect class="su-b" x="391" y="247.5" width="60" height="7"/><rect class="su-o" x="391" y="262.5" width="60" height="7"/>
<use href="#B" x="31"/><use href="#B" x="61"/><use href="#B" x="91"/><use href="#B" x="121"/><use href="#B" x="151"/><use href="#B" x="181"/><use href="#B" x="211"/><use href="#B" x="241"/>
<use href="#O" x="31"/><use href="#O" x="61"/><use href="#O" x="91"/><use href="#O" x="121"/><use href="#O" x="151"/><use href="#O" x="181"/><use href="#O" x="211"/><use href="#O" x="241"/>
<use href="#sB" x="271"/><use href="#sB" x="301"/><use href="#sB" x="331"/><use href="#sB" x="361"/><use href="#sB" x="391"/>
<use href="#sO" x="271"/><use href="#sO" x="301"/><use href="#sO" x="331"/><use href="#sO" x="361"/><use href="#sO" x="391"/>
<use href="#R" x="511"/><use href="#R" x="541"/><use href="#R" x="571"/><use href="#R" x="601"/><use href="#R" x="631"/><use href="#R" x="661"/>
<use href="#B" x="511"/><use href="#B" x="541"/><use href="#B" x="631"/><use href="#B" x="661"/>
<use href="#G" x="691"/><use href="#G" x="721"/><use href="#G" x="751"/><use href="#G" x="781"/><use href="#G" x="811"/><use href="#G" x="841"/><use href="#G" x="871"/><use href="#G" x="901"/>
<use href="#Y" x="751"/><use href="#Y" x="781"/><use href="#Y" x="871"/><use href="#Y" x="901"/><use href="#Y" x="931"/><use href="#Y" x="961"/>
<rect class="ov-g" x="271" y="205.5" width="180" height="61"/>
<rect class="ov-b" x="31" y="205.5" width="325" height="61"/><rect class="ov-r" x="356" y="205.5" width="5" height="61"/>
<use href="#tq" x="31"/><text class="tm" x="37" y="185">=148</text><use href="#tq" x="271"/><text class="tm" x="277" y="185">=149</text><use href="#tq" x="511"/><text class="tm" x="517" y="185">=149</text><use href="#tq" x="751"/><text class="tm" x="757" y="185">=148</text>
<text class="mn" x="31" y="198.5">101</text><text class="mn" x="271" y="198.5">102</text><text class="mn" x="511" y="198.5">103</text><text class="mn" x="751" y="198.5">104</text>
<text class="sg" x="270" y="282">400</text><text class="sg" x="510" y="282">274</text><text class="sg" x="750" y="282">300</text><text class="sg" x="990" y="282">300</text>
<text class="sc" x="270" y="295">97053</text><text class="sc" x="510" y="295">98949</text><text class="sc" x="750" y="295">100149</text><text class="sc" x="990" y="295">101349</text>
<text class="sp" x="270" y="308.5">4.38%</text><text class="sp" x="510" y="308.5">28.40%</text><text class="sp" x="750" y="308.5">28.40%</text><text class="sp" x="990" y="308.5">28.40%</text>
</g>

<g id="row-m105" transform="translate(0,3666)">
<use href="#staff"/>
<use href="#Y" x="31"/><use href="#Y" x="61"/><use href="#Y" x="91"/><use href="#Y" x="121"/><use href="#Y" x="151"/><use href="#Y" x="181"/><use href="#Y" x="211"/><use href="#Y" x="241"/><use href="#Y" x="271"/><use href="#Y" x="301"/><use href="#Y" x="331"/><use href="#Y" x="361"/><use href="#Y" x="391"/><use href="#Y" x="421"/><use href="#Y" x="751"/><use href="#Y" x="781"/><use href="#Y" x="871"/><use href="#Y" x="901"/><use href="#Y" x="931"/><use href="#Y" x="961"/>
<use href="#O" x="31"/><use href="#O" x="61"/><use href="#O" x="151"/><use href="#O" x="181"/><use href="#O" x="391"/><use href="#O" x="421"/>
<use href="#B" x="271"/><use href="#B" x="301"/><use href="#B" x="511"/><use href="#B" x="541"/><use href="#B" x="631"/><use href="#B" x="661"/>
<use href="#R" x="451"/><use href="#R" x="481"/><use href="#R" x="511"/><use href="#R" x="541"/><use href="#R" x="571"/><use href="#R" x="601"/><use href="#R" x="631"/><use href="#R" x="661"/>
<use href="#G" x="691"/><use href="#G" x="721"/><use href="#G" x="751"/><use href="#G" x="781"/><use href="#G" x="811"/><use href="#G" x="841"/><use href="#G" x="871"/><use href="#G" x="901"/>
<use href="#tq" x="31"/><text class="tm" x="37" y="185">=149</text><use href="#tq" x="271"/><text class="tm" x="277" y="185">=147</text><use href="#tq" x="511"/><text class="tm" x="517" y="185">=148</text>
<text class="mn" x="31" y="198.5">105</text><text class="mn" x="271" y="198.5">106</text><text class="mn" x="511" y="198.5">107</text><text class="mn" x="751" y="198.5">108</text>
<text class="sg" x="270" y="282">300</text><text class="sg" x="510" y="282">300</text><text class="sg" x="750" y="282">300</text><text class="sg" x="990" y="282">300</text>
<text class="sc" x="270" y="295">102549</text><text class="sc" x="510" y="295">103749</text><text class="sc" x="750" y="295">104949</text><text class="sc" x="990" y="295">106149</text>
<text class="sp" x="270" y="308.5">28.40%</text><text class="sp" x="510" y="308.5">28.40%</text><text class="sp" x="750" y="308.5">28.40%</text><text class="sp" x="990" y="308.5">28.40%</text>
</g>

<g id="row-m109" transform="translate(0,3807)">
<use href="#staff"/>
<use href="#sY" x="31"/><use href="#sY" x="61"/><use href="#sY" x="91"/><use href="#sY" x="121"/><use href="#sY" x="151"/><use href="#sY" x="181"/><use href="#sY" x="211"/><use href="#sY" x="241"/>
<use href="#sO" x="31"/><use href="#sO" x="61"/><use href="#sO" x="151"/><use href="#sO" x="181"/>
<use href="#Y" x="271"/><use href="#Y" x="301"/><use href="#Y" x="331"/><use href="#Y" x="361"/><use href="#Y" x="391"/><use href="#Y" x="421"/><use href="#Y" x="751"/><use href="#Y" x="781"/><use href="#Y" x="871"/><use href="#Y" x="901"/><use href="#Y" x="931"/><use href="#Y" x="961"/>
<use href="#B" x="271"/><use href="#B" x="301"/><use href="#B" x="511"/><use href="#B" x="541"/><use href="#B" x="631"/><use href="#B" x="661"/>
<use href="#O" x="391"/><use href="#O" x="421"/>
<use href="#R" x="451"/><use href="#R" x="481"/><use href="#R" x="511"/><use href="#R" x="541"/><use href="#R" x="571"/><use href="#R" x="601"/><use href="#R" x="631"/><use href="#R" x="661"/>
<use href="#G" x="691"/><use href="#G" x="721"/><use href="#G" x="751"/><use href="#G" x="781"/><use href="#G" x="811"/><use href="#G" x="841"/><use href="#G" x="871"/><use href="#G" x="901"/>
<rect class="ov-g" x="31" y="205.5" width="210" height="61"/>
<use href="#tq" x="31"/><text class="tm" x="37" y="185">=146</text><use href="#tq" x="271"/><text class="tm" x="277" y="185">=148</text><use href="#tq" x="511"/><text class="tm" x="517" y="185">=149</text><use href="#tq" x="751"/><text class="tm" x="757" y="185">=148</text>
<text class="mn" x="31" y="198.5">109</text><text class="mn" x="271" y="198.5">110</text><text class="mn" x="511" y="198.5">111</text><text class="mn" x="751" y="198.5">112</text>
<text class="sg" x="270" y="282">300</text><text class="sg" x="510" y="282">300</text><text class="sg" x="750" y="282">300</text><text class="sg" x="990" y="282">300</text>
<text class="sc" x="270" y="295">107349</text><text class="sc" x="510" y="295">108549</text><text class="sc" x="750" y="295">109749</text><text class="sc" x="990" y="295">110949</text>
<text class="sp" x="270" y="308.5">53.40%</text><text class="sp" x="510" y="308.5">53.40%</text><text class="sp" x="750" y="308.5">53.40%</text><text class="sp" x="990" y="308.5">53.40%</text>
</g>

<g id="row-m113" transform="translate(0,3948)">
<use href="#staff"/>
<use href="#Y" x="31"/><use href="#Y" x="61"/><use href="#Y" x="91"/><use href="#Y" x="121"/><use href="#Y" x="151"/><use href="#Y" x="181"/><use href="#Y" x="211"/><use href="#Y" x="241"/><use href="#Y" x="271"/><use href="#Y" x="301"/><use href="#Y" x="331"/><use href="#Y" x="361"/><use href="#Y" x="391"/><use href="#Y" x="421"/><use href="#Y" x="751"/><use href="#Y" x="781"/><use href="#Y" x="871"/><use href="#Y" x="901"/><use href="#Y" x="931"/><use href="#Y" x="961"/>
<use href="#O" x="31"/><use href="#O" x="61"/><use href="#O" x="151"/><use href="#O" x="181"/><use href="#O" x="391"/><use href="#O" x="421"/>
<use href="#B" x="271"/><use href="#B" x="301"/><use href="#B" x="511"/><use href="#B" x="541"/><use href="#B" x="631"/><use href="#B" x="661"/>
<use href="#R" x="451"/><use href="#R" x="481"/><use href="#R" x="511"/><use href="#R" x="541"/><use href="#R" x="571"/><use href="#R" x="601"/><use href="#R" x="631"/><use href="#R" x="661"/>
<use href="#G" x="691"/><use href="#G" x="721"/><use href="#G" x="751"/><use href="#G" x="781"/><use href="#G" x="811"/><use href="#G" x="841"/><use href="#G" x="871"/><use href="#G" x="901"/>
<use href="#tq" x="31"/><text class="tm" x="37" y="185">=148</text><use href="#tq" x="271"/><text class="tm" x="277" y="185">=148</text><use href="#tq" x="511"/><text class="tm" x="517" y="185">=148</text><use href="#tq" x="751"/><text class="tm" x="757" y="185">=148</text>
<text class="mn" x="31" y="198.5">113</text><text class="mn" x="271" y="198.5">114</text><text class="mn" x="511" y="198.5">115</text><text class="mn" x="751" y="198.5">116</text>
<text class="sg" x="270" y="282">300</text><text class="sg" x="510" y="282">300</text><text class="sg" x="750" y="282">300</text><text class="sg" x="990" y="282">300</text>
<text class="sc" x="270" y="295">112149</text><text class="sc" x="510" y="295">113349</text><text class="sc" x="750" y="295">114549</text><text class="sc" x="990" y="295">115749</text>
<text class="sp" x="270" y="308.5">53.40%</text><text class="sp" x="510" y="308.5">53.40%</text><text class="sp" x="750" y="308.5">53.40%</text><text class="sp" x="990" y="308.5">53.40%</text>
</g>

<g id="row-m117" transform="translate(0,4089)">
<use href="#staff"/>
<use href="#Y" x="31"/><use href="#Y" x="61"/><use href="#Y" x="91"/><use href="#Y" x="121"/><use href="#Y" x="151"/><use href="#Y" x="181"/><use href="#Y" x="211"/><use href="#Y" x="241"/><use href="#Y" x="271"/><use href="#Y" x="301"/><use href="#Y" x="331"/><use href="#Y" x="361"/><use href="#Y" x="391"/><use href="#Y" x="421"/><use href="#Y" x="976"/>
<use href="#O" x="31"/><use href="#O" x="61"/><use href="#O" x="151"/><use href="#O" x="181"/><use href="#O" x="391"/><use href="#O" x="421"/><use href="#O" x="751"/><use href="#O" x="781"/><use href="#O" x="811"/><use href="#O" x="841"/><use href="#O" x="871"/><use href="#O" x="901"/><use href="#O" x="931"/><use href="#O" x="961"/>
<use href="#B" x="271"/><use href="#B" x="301"/><use href="#B" x="511"/><use href="#B" x="541"/><use href="#B" x="571"/><use href="#B" x="601"/><use href="#B" x="631"/><use href="#B" x="661"/><use href="#B" x="691"/><use href="#B" x="721"/>
<use href="#R" x="451"/><use href="#R" x="481"/><use href="#R" x="511"/><use href="#R" x="541"/><use href="#R" x="571"/><use href="#R" x="601"/><use href="#R" x="631"/><use href="#R" x="661"/><use href="#R" x="691"/><use href="#R" x="721"/><use href="#R" x="736"/><use href="#R" x="751"/><use href="#R" x="781"/><use href="#R" x="811"/><use href="#R" x="841"/><use href="#R" x="871"/><use href="#R" x="901"/><use href="#R" x="931"/><use href="#R" x="961"/>
<rect class="ov-r" x="661.5" y="205.5" width="11" height="61"/><rect class="ov-b" x="672.5" y="205.5" width="318.5" height="61"/>
<use href="#tq" x="31"/><text class="tm" x="37" y="185">=148</text><use href="#tq" x="271"/><text class="tm" x="277" y="185">=148</text><use href="#tq" x="511"/><text class="tm" x="517" y="185">=148</text><use href="#tq" x="751"/><text class="tm" x="757" y="185">=148</text>
<text class="mn" x="31" y="198.5">117</text><text class="mn" x="271" y="198.5">118</text><text class="mn" x="511" y="198.5">119</text><text class="mn" x="751" y="198.5">120</text>
<text class="sg" x="270" y="282">300</text><text class="sg" x="510" y="282">300</text><text class="sg" x="750" y="282">425</text><text class="sg" x="990" y="282">425</text>
<text class="sc" x="270" y="295">116949</text><text class="sc" x="510" y="295">118149</text><text class="sc" x="750" y="295">120549</text><text class="sc" x="990" y="295">123949</text>
<text class="sp" x="270" y="308.5">53.40%</text><text class="sp" x="510" y="308.5">53.40%</text><text class="sp" x="750" y="308.5">49.32%</text><text class="sp" x="990" y="308.5">36.82%</text>
</g>

<g id="row-m121" transform="translate(0,4230)">
<use href="#staff"/>
<use href="#Y" x="31"/><use href="#Y" x="61"/><use href="#Y" x="91"/><use href="#Y" x="121"/><use href="#Y" x="151"/><use href="#Y" x="181"/><use href="#Y" x="211"/><use href="#Y" x="241"/><use href="#Y" x="976"/>
<use href="#O" x="31"/><use href="#O" x="61"/><use href="#O" x="91"/><use href="#O" x="121"/><use href="#O" x="151"/><use href="#O" x="181"/><use href="#O" x="211"/><use href="#O" x="241"/><use href="#O" x="271"/><use href="#O" x="301"/><use href="#O" x="331"/><use href="#O" x="361"/><use href="#O" x="391"/><use href="#O" x="421"/><use href="#O" x="451"/>
<use href="#O" x="751"/><use href="#O" x="781"/><use href="#O" x="811"/><use href="#O" x="841"/><use href="#O" x="871"/><use href="#O" x="901"/><use href="#O" x="931"/><use href="#O" x="961"/>
<use href="#B" x="271"/><use href="#B" x="301"/><use href="#B" x="331"/><use href="#B" x="361"/><use href="#B" x="391"/><use href="#B" x="421"/><use href="#B" x="451"/><use href="#B" x="511"/><use href="#B" x="541"/><use href="#B" x="571"/><use href="#B" x="601"/><use href="#B" x="631"/><use href="#B" x="661"/><use href="#B" x="691"/><use href="#B" x="721"/>
<use href="#R" x="481"/><use href="#R" x="496"/><use href="#R" x="511"/><use href="#R" x="541"/><use href="#R" x="571"/><use href="#R" x="601"/><use href="#R" x="631"/><use href="#R" x="661"/><use href="#R" x="691"/><use href="#R" x="721"/><use href="#R" x="736"/><use href="#R" x="751"/><use href="#R" x="781"/><use href="#R" x="811"/><use href="#R" x="841"/><use href="#R" x="871"/><use href="#R" x="901"/><use href="#R" x="931"/><use href="#R" x="961"/>
<rect class="ov-b" x="31" y="205.5" width="960" height="61"/>
<use href="#tq" x="31"/><text class="tm" x="37" y="185">=146</text><use href="#tq" x="271"/><text class="tm" x="277" y="185">=147</text><use href="#tq" x="511"/><text class="tm" x="517" y="185">=148</text><use href="#tq" x="751"/><text class="tm" x="757" y="185">=148</text>
<text class="mn" x="31" y="198.5">121</text><text class="mn" x="271" y="198.5">122</text><text class="mn" x="511" y="198.5">123</text><text class="mn" x="751" y="198.5">124</text>
<text class="sg" x="270" y="282">400</text><text class="sg" x="510" y="282">400</text><text class="sg" x="750" y="282">425</text><text class="sg" x="990" y="282">425</text>
<text class="sc" x="270" y="295">127149</text><text class="sc" x="510" y="295">130349</text><text class="sc" x="750" y="295">133749</text><text class="sc" x="990" y="295">137149</text>
<text class="sp" x="270" y="308.5">24.32%</text><text class="sp" x="510" y="308.5">11.82%</text><text class="sp" x="750" y="308.5">0.00%</text><text class="sp" x="990" y="308.5">0.00%</text>
</g>

<g id="row-m125" transform="translate(0,4371)">
<use href="#staff"/>
<rect class="su-r" x="511" y="217.5" width="480" height="7"/><rect class="su-b" x="511" y="247.5" width="480" height="7"/>
<use href="#Y" x="31"/><use href="#Y" x="61"/><use href="#Y" x="91"/><use href="#Y" x="121"/><use href="#Y" x="151"/><use href="#Y" x="181"/><use href="#Y" x="211"/><use href="#Y" x="241"/>
<use href="#O" x="31"/><use href="#O" x="61"/><use href="#O" x="91"/><use href="#O" x="121"/><use href="#O" x="151"/><use href="#O" x="181"/><use href="#O" x="211"/><use href="#O" x="241"/>
<use href="#R" x="271"/><use href="#R" x="301"/><use href="#B" x="271"/><use href="#B" x="301"/>
<use href="#R" x="511"/><use href="#B" x="511"/>
<rect class="ov-b" x="31" y="205.5" width="210" height="61"/>
<use href="#tq" x="31"/><text class="tm" x="37" y="185">=148</text><use href="#tq" x="271"/><text class="tm" x="277" y="185">=148</text><use href="#tq" x="511"/><text class="tm" x="517" y="185">=148</text><use href="#tq" x="751"/><text class="tm" x="757" y="185">=148</text>
<text class="mn" x="31" y="198.5">125</text><text class="mn" x="271" y="198.5">126</text><text class="mn" x="511" y="198.5">127</text><text class="mn" x="751" y="198.5">128</text>
<text class="sg" x="270" y="282">400</text><text class="sg" x="510" y="282">300</text><text class="sg" x="750" y="282">0</text><text class="sg" x="990" y="282">0</text>
<text class="sc" x="270" y="295">140549</text><text class="sc" x="510" y="295">143049</text><text class="sc" x="750" y="295">143093</text><text class="sc" x="990" y="295">143093</text>
<text class="sp" x="270" y="308.5">0.00%</text><text class="sp" x="510" y="308.5">0.00%</text><text class="sp" x="750" y="308.5">0.00%</text><text class="sp" x="990" y="308.5">0.00%</text>
</g>

<g id="row-m129" transform="translate(0,4512)">
<use href="#staffh"/>
<rect class="su-r" x="31" y="217.5" width="360" height="7"/><rect class="su-b" x="31" y="247.5" width="360" height="7"/>
<use href="#tq" x="31"/><text class="tm" x="37" y="185">=148</text><use href="#tq" x="271"/><text class="tm" x="277" y="185">=148</text>
<text class="mn" x="31" y="198.5">129</text><text class="mn" x="271" y="198.5">130</text>
<text class="sg" x="270" y="282">0</text><text class="sg" x="510" y="282">0</text>
<text class="sc" x="270" y="295">143793</text><text class="sc" x="510" y="295">143893</text>
<text class="sp" x="270" y="308.5">0.00%</text><text class="sp" x="510" y="308.5">0.00%</text>
</g>
</g>
</svg>
